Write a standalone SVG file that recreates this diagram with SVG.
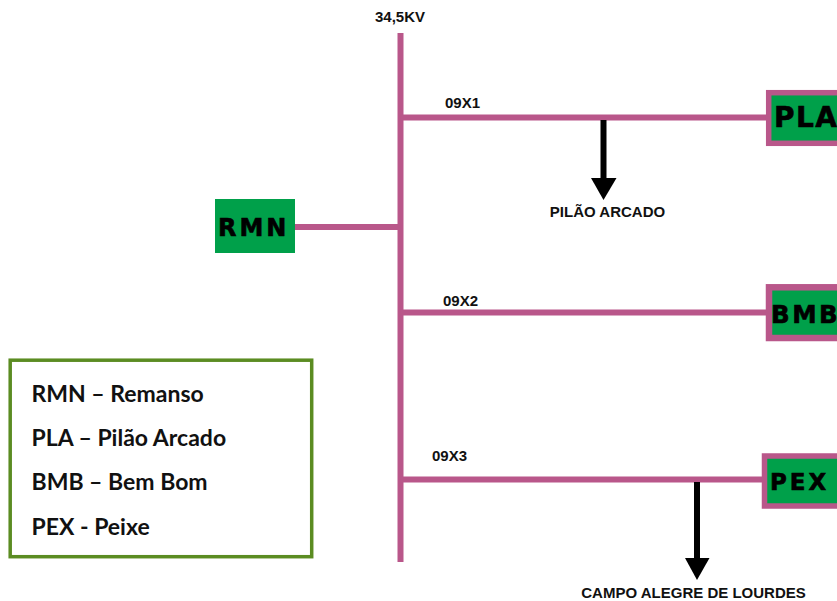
<svg xmlns="http://www.w3.org/2000/svg" width="837" height="601" viewBox="0 0 837 601">
<style>
.bus{stroke:#B9578A;stroke-width:6;fill:none}
.box{fill:#00A04A;stroke:#B9578A}
.code{font-family:"DejaVu Sans",sans-serif;font-weight:bold;fill:#000;stroke:#000;stroke-width:0.6}
.lbl{font-family:"Liberation Sans",Arial,sans-serif;font-weight:bold;font-size:15px;fill:#111}
.leg{font-family:Lato,"Liberation Sans",sans-serif;font-weight:bold;font-size:23px;fill:#111}
.arr{stroke:#000;stroke-width:6}
</style>
<rect width="837" height="601" fill="#fff"/>
<g id="connectors">
<line class="bus" x1="400.5" y1="33" x2="400.5" y2="562"/>
<line class="bus" x1="295" y1="227" x2="400.5" y2="227"/>
<line class="bus" x1="400.5" y1="117.5" x2="768" y2="117.5"/>
<line class="bus" x1="400.5" y1="312.5" x2="768" y2="312.5"/>
<line class="bus" x1="400.5" y1="479.5" x2="764" y2="479.5"/>
<line class="arr" x1="603.5" y1="120" x2="603.5" y2="180"/>
<polygon points="591,178 616.5,178 603.5,200" fill="#000"/>
<line class="arr" x1="697" y1="482" x2="697" y2="560"/>
<polygon points="685,558 709.5,558 697,580" fill="#000"/>
</g>
<g id="bus-label"><text class="lbl" x="375" y="22">34,5KV</text></g>
<g id="feeder1-label"><text class="lbl" x="445" y="108">09X1</text></g>
<g id="feeder2-label"><text class="lbl" x="443" y="306">09X2</text></g>
<g id="feeder3-label"><text class="lbl" x="432" y="461">09X3</text></g>
<g id="pilao-label"><text class="lbl" x="607.5" y="217" text-anchor="middle">PILÃO ARCADO</text></g>
<g id="campo-label"><text class="lbl" x="693.5" y="598" text-anchor="middle" font-size="15.3">CAMPO ALEGRE DE LOURDES</text></g>
<g id="RMN">
<rect x="215" y="199" width="80" height="54" fill="#00A04A"/>
<text class="code" x="218" y="235.5" font-size="24" letter-spacing="3">RMN</text>
</g>
<g id="PLA">
<rect class="box" x="768.7" y="92.7" width="100" height="50.6" stroke-width="5.5"/>
<text class="code" x="774" y="127.3" font-size="28" letter-spacing="1.5">PLA</text>
</g>
<g id="BMB">
<rect class="box" x="769" y="287.3" width="100" height="50.7" stroke-width="6.5"/>
<text class="code" x="771" y="322.7" font-size="24.5" letter-spacing="2.5">BMB</text>
</g>
<g id="PEX">
<rect class="box" x="764.5" y="456" width="100" height="50" stroke-width="5.5"/>
<text class="code" x="770" y="489.5" font-size="23" letter-spacing="3">PEX</text>
</g>
<g id="legend">
<rect x="10.2" y="360.2" width="301.5" height="196.5" fill="#fff" stroke="#5B8C22" stroke-width="3.5"/>
<text class="leg" x="31.5" y="401.7">RMN – Remanso</text>
<text class="leg" x="31.5" y="445.5">PLA – Pilão Arcado</text>
<text class="leg" x="31.5" y="490">BMB – Bem Bom</text>
<text class="leg" x="31.5" y="535">PEX - Peixe</text>
</g>
</svg>
